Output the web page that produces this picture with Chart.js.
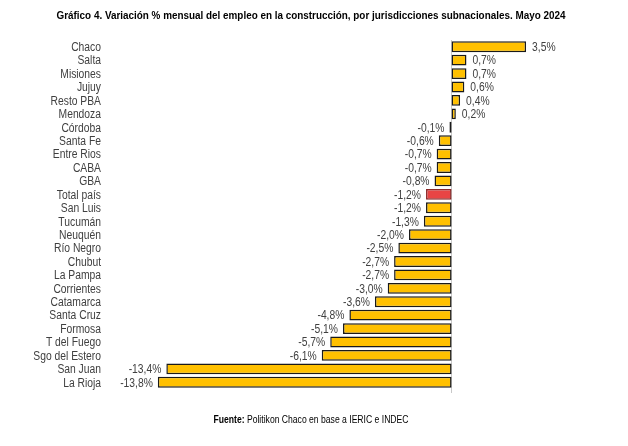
<!DOCTYPE html>
<html>
<head>
<meta charset="utf-8">
<script src="https://cdn.jsdelivr.net/npm/chart.js@4/dist/chart.umd.min.js"></script>
<style>
  html, body { margin: 0; padding: 0; background: #fff; }
  #wrap { width: 628px; height: 446px; position: relative; }
</style>
</head>
<body>
<div id="wrap"><canvas id="chart"></canvas></div>
<script>
const FONT = '"Liberation Sans", Arial, sans-serif';
const NARROW = 0.86; // squeeze text horizontally to mimic the condensed face of the original

const jurisdicciones = ['Chaco', 'Salta', 'Misiones', 'Jujuy', 'Resto PBA', 'Mendoza', 'Córdoba', 'Santa Fe',
    'Entre Rios', 'CABA', 'GBA', 'Total país', 'San Luis', 'Tucumán', 'Neuquén', 'Río Negro', 'Chubut',
    'La Pampa', 'Corrientes', 'Catamarca', 'Santa Cruz', 'Formosa', 'T del Fuego', 'Sgo del Estero',
    'San Juan', 'La Rioja'];
const variacion = [3.5, 0.7, 0.7, 0.6, 0.4, 0.2, -0.1, -0.6, -0.7, -0.7, -0.8, -1.2, -1.2, -1.3, -2.0,
    -2.5, -2.7, -2.7, -3.0, -3.6, -4.8, -5.1, -5.7, -6.1, -13.4, -13.8];

const title = 'Gráfico 4. Variación % mensual del empleo en la construcción, por jurisdicciones subnacionales. Mayo 2024';

const fmt = v => v.toFixed(1).replace('.', ',') + '%';

function narrowText(ctx, text, x, y, align) {
    ctx.save();
    ctx.translate(x, y);
    ctx.scale(NARROW, 1);
    ctx.textAlign = align;
    ctx.fillText(text, 0, 0);
    ctx.restore();
}

// zero line, category labels, value labels, title and source
const decorPlugin = {
    id: 'decor',
    beforeDatasetsDraw(chart) {
        const {ctx, chartArea, scales} = chart;
        const x0 = Math.round(scales.x.getPixelForValue(0)) - 0.5;
        ctx.save();
        ctx.strokeStyle = '#c8c8c8';
        ctx.lineWidth = 1;
        ctx.beginPath();
        ctx.moveTo(x0, chartArea.top);
        ctx.lineTo(x0, chartArea.bottom + 4);
        ctx.stroke();
        ctx.restore();
    },
    afterDatasetsDraw(chart) {
        const {ctx, scales} = chart;
        ctx.save();
        ctx.textBaseline = 'middle';
        ctx.font = '12px ' + FONT;
        ctx.fillStyle = '#404040';

        jurisdicciones.forEach((j, i) => {
            narrowText(ctx, j, 101, scales.y.getPixelForValue(i) + 1, 'right');
        });

        chart.getDatasetMeta(0).data.forEach((bar, i) => {
            const v = variacion[i];
            if (v >= 0) narrowText(ctx, fmt(v), bar.x + 6, bar.y + 1, 'left');
            else narrowText(ctx, fmt(v), bar.x - 5, bar.y + 1, 'right');
        });

        ctx.fillStyle = '#000';
        ctx.font = 'bold 11.5px ' + FONT;
        narrowText(ctx, title, 311, 16, 'center');

        const a = 'Fuente: ';
        const b = 'Politikon Chaco en base a IERIC e INDEC';
        ctx.font = 'bold 10px ' + FONT;
        const wa = ctx.measureText(a).width * NARROW;
        ctx.font = '10px ' + FONT;
        const wb = ctx.measureText(b).width * NARROW;
        const start = 311 - (wa + wb) / 2;
        ctx.font = 'bold 10px ' + FONT;
        narrowText(ctx, a, start, 420, 'left');
        ctx.font = '10px ' + FONT;
        narrowText(ctx, b, start + wa, 420, 'left');
        ctx.restore();
    }
};

new Chart(document.getElementById('chart'), {
    type: 'bar',
    data: {
        labels: jurisdicciones,
        datasets: [{
            data: variacion,
            backgroundColor: jurisdicciones.map(j => j === 'Total país' ? '#e84545' : '#ffc000'),
            borderColor: jurisdicciones.map(j => j === 'Total país' ? '#8a2a2a' : '#1a1a1a'),
            borderWidth: 1.5,
            borderSkipped: false,
            barPercentage: 0.85,
            categoryPercentage: 0.95
        }]
    },
    options: {
        indexAxis: 'y',
        responsive: true,
        maintainAspectRatio: false,
        animation: false,
        layout: { padding: { top: 40, bottom: 57, right: 70, left: 0 } },
        plugins: { legend: { display: false }, tooltip: { enabled: false } },
        scales: {
            x: { display: false, min: -16, max: 5 },
            y: {
                grid: { display: false, drawTicks: false },
                border: { display: false },
                ticks: { display: false },
                afterFit(scale) { scale.width = 111; }
            }
        }
    },
    plugins: [decorPlugin]
});
</script>
</body>
</html>
